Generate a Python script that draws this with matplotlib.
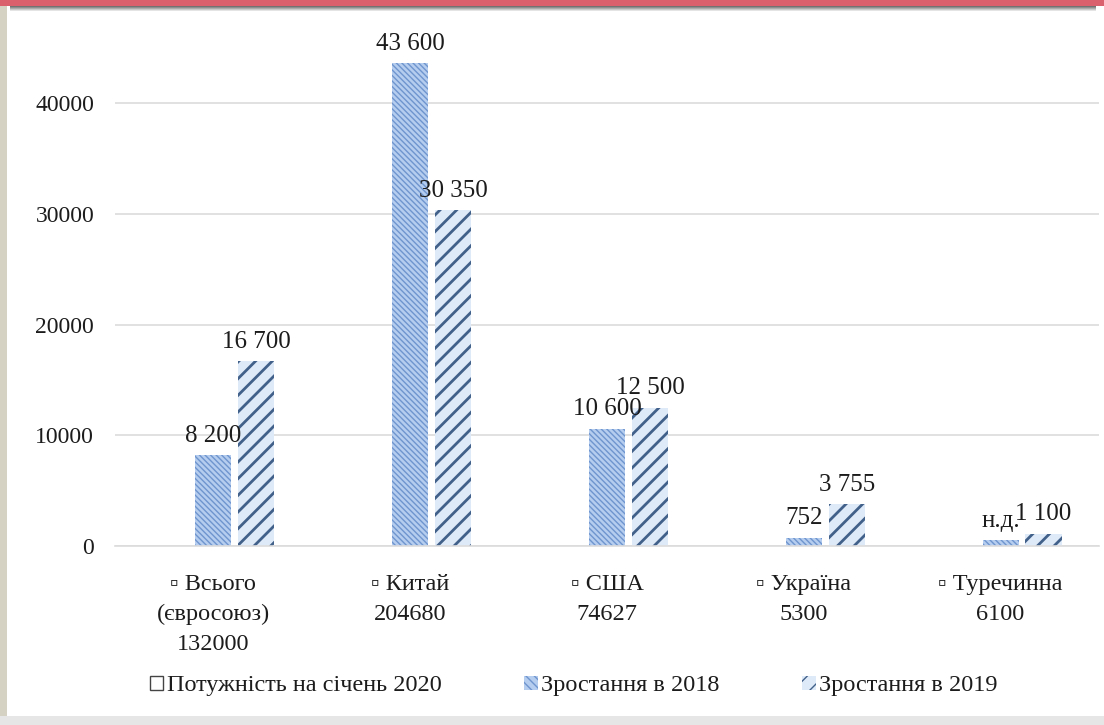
import matplotlib
matplotlib.use("Agg")
import matplotlib.pyplot as plt
from matplotlib.patches import Patch, Rectangle
import numpy as np

# Solar capacity additions by country (MW)
categories = ["Всього\n(євросоюз)", "Китай", "США", "Україна", "Туречинна"]
capacity_jan2020 = [132000, 204680, 74627, 5300, 6100]
growth_2018 = [8200, 43600, 10600, 752, 500]
growth_2019 = [16700, 30350, 12500, 3755, 1100]
no_data_2018 = [False, False, False, False, True]
yticks = [0, 10000, 20000, 30000, 40000]
series_names = ["Потужність на січень 2020", "Зростання в 2018", "Зростання в 2019"]

SERIF = ["Liberation Serif", "DejaVu Serif"]
plt.rcParams["font.family"] = SERIF
TEXT = "#1c1c1c"


def fmt(v):
    return f"{v:,}".replace(",", " ")


fig = plt.figure(figsize=(11.04, 7.25), dpi=100)
fig.patch.set_facecolor("white")

# window frame decoration
W, H = 1104, 725
def frect(x0, y0, x1, y1, color, alpha=1.0):
    fig.patches.append(Rectangle((x0 / W, 1 - y1 / H), (x1 - x0) / W, (y1 - y0) / H,
                                 transform=fig.transFigure, facecolor=color,
                                 edgecolor="none", alpha=alpha, zorder=0))

frect(0, 0, 7, 725, "#d5d2c4")
frect(0, 716, 1104, 725, "#e6e6e6")
for i, c in enumerate(["#5a5a5a", "#727272", "#8e8e8e", "#ababab", "#c9c9c9", "#e4e4e4"]):
    frect(10, 5 + i, 1096, 6 + i, c)
frect(0, 0, 1104, 5.5, "#d9606c")

ax = fig.add_axes([115 / W, 0.2469, (1099 - 115) / W, 0.7179])
x = np.arange(len(categories))
bw = 0.183
off = 0.218

with plt.rc_context({"hatch.linewidth": 1.0}):
    b18 = ax.bar(x, growth_2018, width=bw, color="#b5cdee", edgecolor="#6f95cf",
                 linewidth=0, hatch="\\\\\\\\\\\\", zorder=2)
with plt.rc_context({"hatch.linewidth": 2.0}):
    b19 = ax.bar(x + off, growth_2019, width=bw, color="#dfeaf8", edgecolor="#42618a",
                 linewidth=0, hatch="//", zorder=2)

for xi, v, nd in zip(x, growth_2018, no_data_2018):
    ax.annotate("н.д." if nd else fmt(v), (xi, v), xytext=(0, 6), textcoords="offset points",
                ha="center", va="bottom", fontsize=18, color=TEXT, zorder=3)
for xi, v in zip(x, growth_2019):
    ax.annotate(fmt(v), (xi + off, v), xytext=(0, 6), textcoords="offset points",
                ha="center", va="bottom", fontsize=18, color=TEXT, zorder=3)

ax.set_xlim(-0.5, len(categories) - 0.5)
ax.set_ylim(0, 47000)
ax.set_yticks(yticks)
ax.set_yticklabels([str(t) for t in yticks], fontsize=17, color=TEXT)
ax.yaxis.grid(True, color="#dcdcdc", linewidth=1.2)
ax.set_axisbelow(True)
for s in ["top", "right", "left"]:
    ax.spines[s].set_visible(False)
ax.spines["bottom"].set_color("#dcdcdc")
ax.spines["bottom"].set_linewidth(1.2)
ax.tick_params(axis="both", length=0)
ax.tick_params(axis="y", pad=15)
ax.tick_params(axis="x", pad=20)
ax.set_xticks(x)
ax.set_xticklabels([f"▫ {c}\n{cap}" for c, cap in zip(categories, capacity_jan2020)],
                   fontsize=17.5, color=TEXT, linespacing=1.55, family=SERIF)

handles = [
    Patch(facecolor="white", edgecolor="#444444", linewidth=1.0),
    Patch(facecolor="#b5cdee", edgecolor="#6f95cf", linewidth=0, hatch="\\\\\\\\"),
    Patch(facecolor="#dfeaf8", edgecolor="#42618a", linewidth=0, hatch="//"),
]
fig.legend(handles, series_names, loc="center", bbox_to_anchor=(574 / W, 1 - 686 / H),
           ncol=3, frameon=False, prop={"family": SERIF, "size": 17.5},
           handlelength=0.55, handleheight=0.55, handletextpad=0.15,
           columnspacing=3.4, labelcolor=TEXT)

fig.savefig("out.png", dpi=100, facecolor="white")
